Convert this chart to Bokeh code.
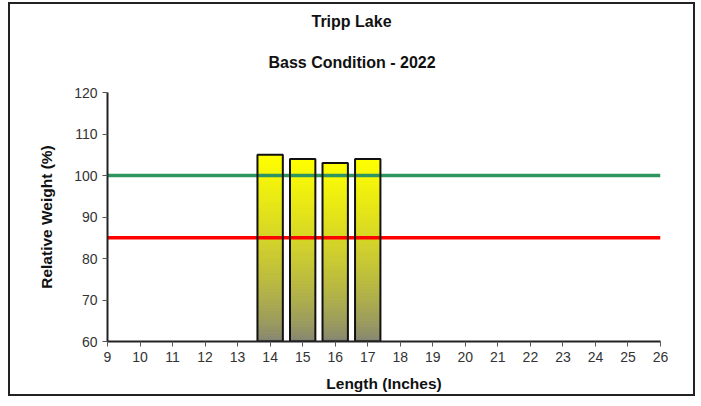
from bokeh.plotting import figure
from bokeh.models import Title, FixedTicker, Range1d
from bokeh.embed import file_html
from bokeh.resources import INLINE

lengths = [14, 15, 16, 17]
rel_weight = [105, 104, 103, 104]
x_ticks = list(range(9, 27))
y_ticks = [60, 70, 80, 90, 100, 110, 120]
target_line = 100
low_line = 85

FONT = "Liberation Sans"

p = figure(width=687, height=394, output_backend="svg", toolbar_location=None,
           x_range=Range1d(9, 26), y_range=Range1d(60, 120), title=None,
           min_border_left=97, min_border_right=37, min_border_top=88, min_border_bottom=57)
p.styles = {"border": "2px solid #222222", "box-sizing": "border-box",
            "margin-left": "8px", "margin-top": "2px"}
p.outline_line_color = None
p.xgrid.visible = False
p.ygrid.visible = False

# gradient bars: slices from gray (bottom) to yellow (top)
N = 60
bot = (128, 128, 120)
top = (255, 255, 0)
for x, v in zip(lengths, rel_weight):
    b0, t0, cols = [], [], []
    for i in range(N):
        lo = 60 + (v - 60) * i / N
        hi = 60 + (v - 60) * (i + 1) / N
        f = ((i + 0.5) / N) ** 0.7
        c = tuple(int(round(bot[k] + (top[k] - bot[k]) * f)) for k in range(3))
        b0.append(lo); t0.append(hi); cols.append("#%02x%02x%02x" % c)
    p.quad(left=[x - 0.39] * N, right=[x + 0.39] * N, bottom=b0, top=t0,
           fill_color=cols, line_color=cols, line_width=1)

p.line(x=[9, 26], y=[target_line, target_line], line_color="#2e9460", line_width=3.5)
p.line(x=[9, 26], y=[low_line, low_line], line_color="#ff0000", line_width=3.5)

p.vbar(x=lengths, top=rel_weight, bottom=60, width=0.78, fill_color=None,
       line_color="#111111", line_width=2)

for ax in (p.xaxis, p.yaxis):
    ax.axis_line_color = "#222222"
    ax.axis_line_width = 2
    ax.major_tick_line_color = "#555555"
    ax.major_tick_in = 0
    ax.major_tick_out = 5
    ax.minor_tick_line_color = None
    ax.major_label_text_font = FONT
    ax.major_label_text_font_size = "14px"
    ax.major_label_text_color = "#333333"
    ax.axis_label_text_font = FONT
    ax.axis_label_text_font_style = "bold"
    ax.axis_label_text_font_size = "15.5px"
    ax.axis_label_text_color = "#111111"

p.xaxis.ticker = FixedTicker(ticks=x_ticks)
p.yaxis.ticker = FixedTicker(ticks=y_ticks)
p.xaxis.axis_label = "Length (Inches)"
p.yaxis.axis_label = "Relative Weight (%)"
p.xaxis.major_label_standoff = 5
p.xaxis.axis_label_standoff = 10
p.yaxis.major_label_standoff = 5
p.yaxis.axis_label_standoff = 16

p.add_layout(Title(text="Bass Condition - 2022", align="left", offset=161, standoff=44,
                   text_font=FONT, text_font_style="bold", text_font_size="16px",
                   text_color="#111111"), "above")
p.add_layout(Title(text="Tripp Lake", align="left", offset=204, standoff=0,
                   text_font=FONT, text_font_style="bold", text_font_size="16px",
                   text_color="#111111"), "above")

open("out.html", "w").write(file_html(p, INLINE))
